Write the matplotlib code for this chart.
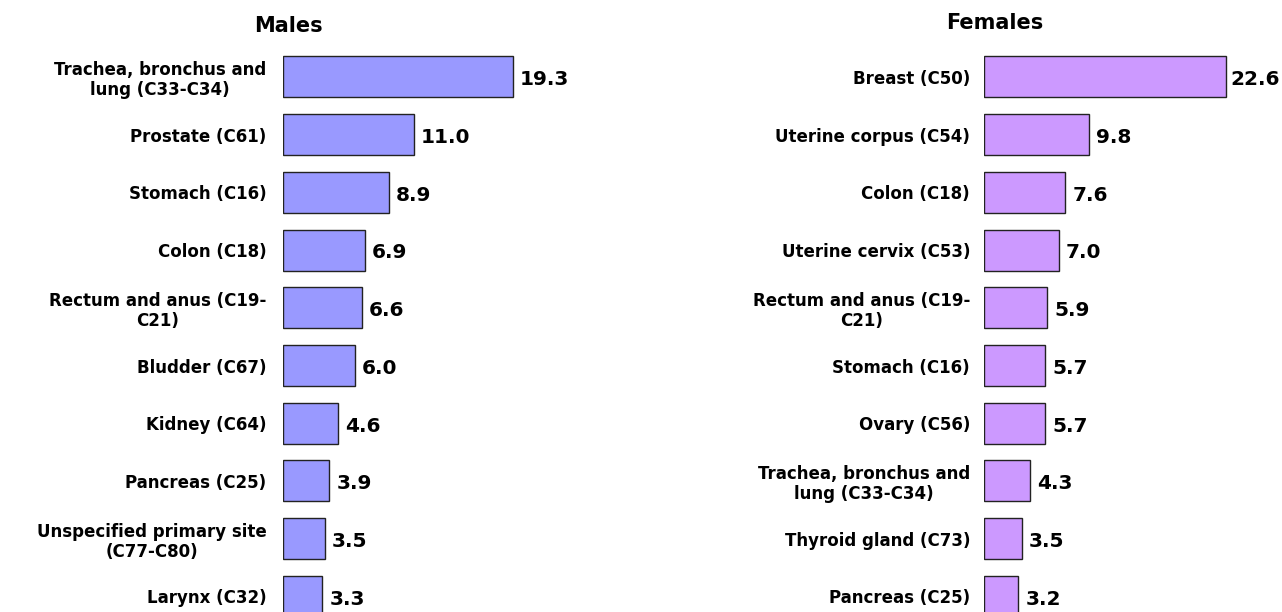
import numpy as np
import matplotlib.pyplot as plt

plt.rcParams['font.family'] = ['DejaVu Sans']

# данные
male_sites = ['Trachea, bronchus and\nlung (C33-C34)', 'Prostate (C61)', 'Stomach (C16)',
              'Colon (C18)', 'Rectum and anus (C19-\nC21)', 'Bludder (C67)', 'Kidney (C64)',
              'Pancreas (C25)', 'Unspecified primary site\n(C77-C80)', 'Larynx (C32)']
male_vals = [19.3, 11.0, 8.9, 6.9, 6.6, 6.0, 4.6, 3.9, 3.5, 3.3]

female_sites = ['Breast (C50)', 'Uterine corpus (C54)', 'Colon (C18)', 'Uterine cervix (C53)',
                'Rectum and anus (C19-\nC21)', 'Stomach (C16)', 'Ovary (C56)',
                'Trachea, bronchus and\nlung (C33-C34)', 'Thyroid gland (C73)', 'Pancreas (C25)']
female_vals = [22.6, 9.8, 7.6, 7.0, 5.9, 5.7, 5.7, 4.3, 3.5, 3.2]

W, H = 1282, 612
fig = plt.figure(figsize=(W / 100, H / 100), dpi=100)

def draw_panel(left_px, width_px, xmax, sites, vals, color, title, title_x, title_y, pad):
    ax = fig.add_axes([left_px / W, 0, width_px / W, 1 - 48 / H])
    y = np.arange(len(vals))
    ax.barh(y, vals, height=0.71, color=color, edgecolor='#222222', linewidth=1)
    ax.set_xlim(0, xmax)
    ax.set_ylim(9.27, -0.5)
    ax.set_yticks(y)
    ax.set_yticklabels(sites, fontsize=12, fontweight='bold', multialignment='center',
                       linespacing=1.15)
    ax.tick_params(axis='y', length=0, pad=pad)
    ax.set_xticks([])
    for s in ax.spines.values():
        s.set_visible(False)
    # подписи значений, не выходя за край рисунка
    px = xmax / width_px
    for yi, v in zip(y, vals):
        x = min(v + 7 * px, xmax - 52 * px)
        x = max(x, v + 1 * px)
        ax.text(x, yi + 0.05, f'{v:.1f}', va='center', ha='left',
                fontsize=14.5, fontweight='bold')
    fig.text(title_x / W, 1 - title_y / H, title, ha='center', va='center',
             fontsize=15, fontweight='bold')

draw_panel(283, 400, 400 / 11.92, male_sites, male_vals, '#9999FF', 'Males', 288, 26, 12)
draw_panel(984, 298, 298 / 10.72, female_sites, female_vals, '#CC99FF', 'Females', 995, 23, 10)

fig.savefig('out.png', dpi=100)
